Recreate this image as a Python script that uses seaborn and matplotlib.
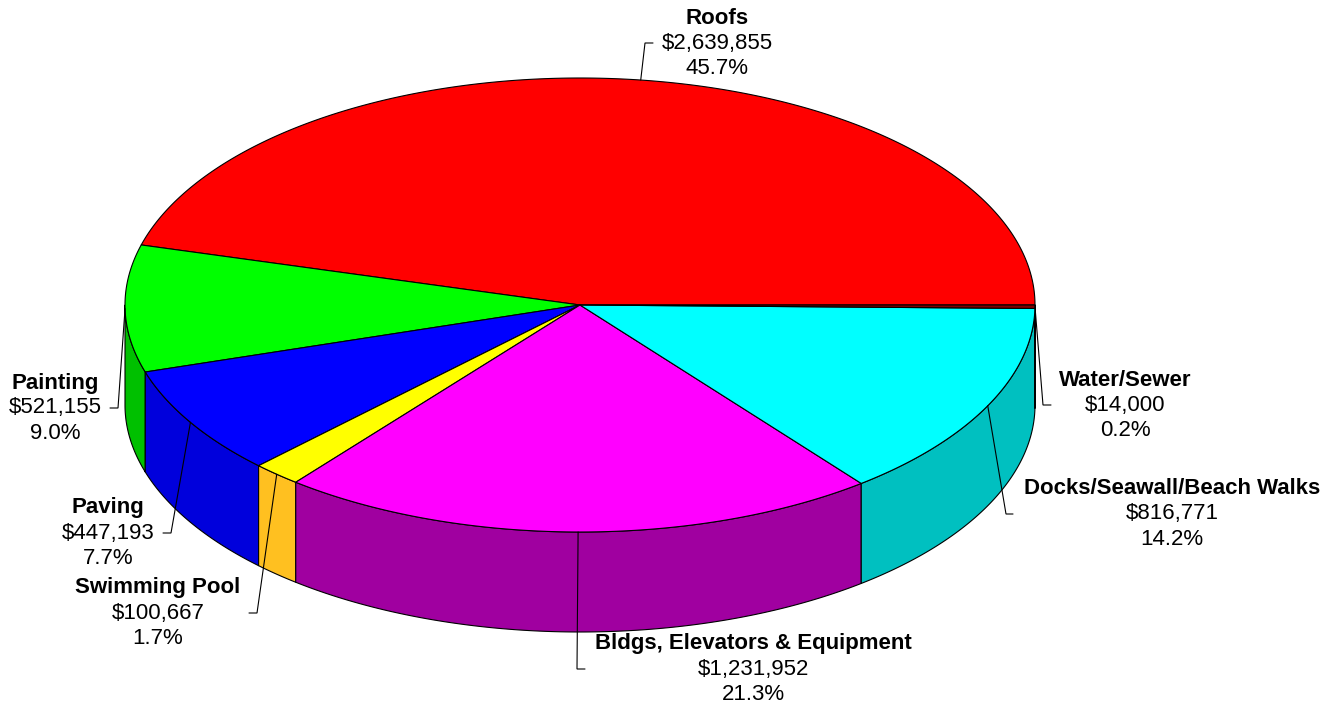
import numpy as np
import matplotlib
matplotlib.use("Agg")
import matplotlib.pyplot as plt
from matplotlib.patches import Polygon
import seaborn as sns

# Reserve fund components (dollars), drawn counter-clockwise from 3 o'clock
categories = ["Roofs", "Painting", "Paving", "Swimming Pool",
              "Bldgs, Elevators & Equipment", "Docks/Seawall/Beach Walks",
              "Water/Sewer"]
amounts = [2639855, 521155, 447193, 100667, 1231952, 816771, 14000]
top_colors = ["#FF0000", "#00FF00", "#0000FF", "#FFFF00",
              "#FF00FF", "#00FFFF", "#800000"]
side_colors = ["#C00000", "#00C000", "#0000DC", "#FFC020",
               "#A000A0", "#00C0C0", "#600000"]

# label anchors (centre of the value line) and leader elbows
label_xy = [(717, 43), (55, 408), (108, 533), (158, 613),
            (753, 669), (1172, 514), (1125, 405)]
leader_elbow = [(645, 43), (118, 408), (171, 533), (257, 613),
                (577, 669), (1006, 514), (1043, 405)]
leader_end = [(653, 43), (110, 408), (163, 533), (249, 613),
              (585, 669), (1013, 514), (1051, 405)]

sns.set_style("white")
plt.rcParams["font.family"] = ["Liberation Sans", "DejaVu Sans"]

W, H = 1340, 709
fig = plt.figure(figsize=(W / 100, H / 100), dpi=100)
ax = fig.add_axes([0, 0, 1, 1])
ax.set_xlim(0, W)
ax.set_ylim(H, 0)
ax.axis("off")

# ellipse geometry of the pie top and its thickness
cx, cy, rx, ry, depth = 580.0, 305.0, 455.0, 227.0, 100.0


def pt(t_deg, dz=0.0):
    t = np.radians(t_deg)
    return cx + rx * np.cos(t), cy - ry * np.sin(t) + dz


total = float(sum(amounts))
fracs = np.array(amounts) / total
bounds = np.concatenate([[0.0], np.cumsum(fracs) * 360.0])
edge_kw = dict(edgecolor="black", linewidth=0.8, joinstyle="round")

# front walls (only the part of each slice between 180 and 360 degrees)
for i in range(len(amounts)):
    a, b = max(bounds[i], 180.0), min(bounds[i + 1], 360.0)
    if b <= a:
        continue
    ts = np.linspace(a, b, 120)
    top = [pt(t) for t in ts]
    bot = [pt(t, depth) for t in ts[::-1]]
    ax.add_patch(Polygon(top + bot, closed=True, facecolor=side_colors[i],
                         zorder=2, **edge_kw))

# top faces
for i in range(len(amounts)):
    ts = np.linspace(bounds[i], bounds[i + 1], 240)
    verts = [(cx, cy)] + [pt(t) for t in ts]
    ax.add_patch(Polygon(verts, closed=True, facecolor=top_colors[i],
                         zorder=3, **edge_kw))

# labels with leader lines from the middle of each slice's rim
fs = 16
for i, name in enumerate(categories):
    mid = 0.5 * (bounds[i] + bounds[i + 1])
    sx, sy = pt(mid)
    ex, ey = leader_elbow[i]
    fx, fy = leader_end[i]
    ax.plot([sx, ex, fx], [sy, ey, fy], color="black", linewidth=0.8,
            zorder=4, solid_joinstyle="miter")
    lx, ly = label_xy[i]
    ax.text(lx, ly - 25, name, ha="center", va="center", fontsize=fs,
            fontweight="bold", color="black", zorder=5)
    ax.text(lx, ly, f"${amounts[i]:,}", ha="center", va="center",
            fontsize=fs, color="black", zorder=5)
    ax.text(lx, ly + 25.5, f"{fracs[i] * 100:.1f}%", ha="center",
            va="center", fontsize=fs, color="black", zorder=5)

fig.savefig("out.png", dpi=100, facecolor="white")
